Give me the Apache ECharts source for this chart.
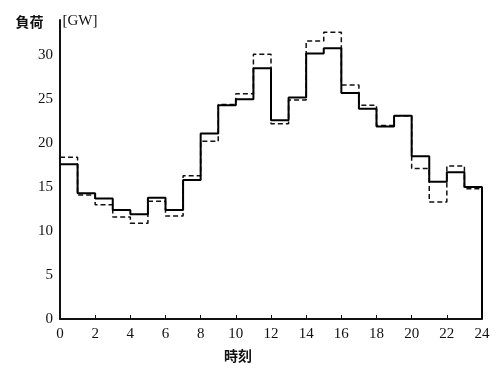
<!DOCTYPE html>
<html>
<head>
<meta charset="utf-8">
<script src="https://cdn.jsdelivr.net/npm/echarts@6/dist/echarts.min.js"></script>
<style>
  html, body { margin: 0; padding: 0; background: #fff; }
  #chart { width: 499px; height: 372px; }
</style>
</head>
<body>
<div id="chart"></div>
<script>
// hourly load, value held from hour h to h+1
const hours = [0, 1, 2, 3, 4, 5, 6, 7, 8, 9, 10, 11, 12, 13, 14, 15, 16, 17, 18, 19, 20, 21, 22, 23];
const solidLoad = [17.6, 14.3, 13.7, 12.4, 11.9, 13.8, 12.4, 15.8, 21.1, 24.3, 25.0, 28.5,
  22.6, 25.2, 30.2, 30.8, 25.7, 23.9, 21.9, 23.1, 18.5, 15.6, 16.7, 15.0];
const dashedLoad = [18.4, 14.1, 13.0, 11.6, 10.9, 13.4, 11.7, 16.3, 20.2, 24.4, 25.6, 30.1,
  22.2, 24.9, 31.6, 32.6, 26.6, 24.3, 22.0, 23.1, 17.1, 13.3, 17.4, 14.8];
const xTicks = [0, 2, 4, 6, 8, 10, 12, 14, 16, 18, 20, 22, 24];
const yTicks = [0, 5, 10, 15, 20, 25, 30];

const serif = "Liberation Serif, DejaVu Serif, serif";
const cjk = "Noto Sans CJK JP, sans-serif";

// step series: close the last hour at 24
const solidData = hours.map((h, i) => [h, solidLoad[i]]);
solidData.push([24, solidLoad[solidLoad.length - 1]], [24, 0]);
const dashedData = hours.map((h, i) => [h, dashedLoad[i]]);
dashedData.push([24, dashedLoad[dashedLoad.length - 1]]);

const chart = echarts.init(document.getElementById("chart"), null, { renderer: "canvas" });

chart.setOption({
  backgroundColor: "#fff",
  animation: false,
  grid: { left: 60, right: 17, top: 20, bottom: 53, containLabel: false },
  xAxis: {
    type: "value",
    min: 0,
    max: 24,
    interval: 2,
    name: "時刻",
    nameLocation: "middle",
    nameGap: 30,
    nameTextStyle: { color: "#111", fontFamily: cjk, fontSize: 14, fontWeight: "bold", padding: [0, 66, 0, 0] },
    axisLine: { lineStyle: { color: "#111", width: 2 } },
    axisTick: { inside: true, length: 4, lineStyle: { color: "#111" } },
    axisLabel: {
      color: "#111", fontFamily: serif, fontSize: 15, margin: 8,
      formatter: (v) => (xTicks.includes(v) ? String(v) : "")
    },
    splitLine: { show: false }
  },
  yAxis: {
    type: "value",
    min: 0,
    max: 34,
    interval: 5,
    name: "{a|負荷}{b|[GW]}",
    nameLocation: "end",
    nameGap: -9,
    nameTextStyle: {
      align: "center",
      padding: [0, 7, 0, 0],
      rich: {
        a: { color: "#111", fontFamily: cjk, fontSize: 14, fontWeight: "bold", padding: [0, 19, 0, 0] },
        b: { color: "#111", fontFamily: serif, fontSize: 15, padding: [0, 0, 0, 0] }
      }
    },
    axisLine: { show: true, lineStyle: { color: "#111", width: 2 } },
    axisTick: { show: false },
    axisLabel: {
      color: "#111", fontFamily: serif, fontSize: 15, margin: 7,
      showMaxLabel: false,
      formatter: (v) => (yTicks.includes(v) ? String(v) : "")
    },
    splitLine: { show: false }
  },
  series: [
    {
      name: "dashed",
      type: "line",
      step: "end",
      data: dashedData,
      showSymbol: false,
      lineStyle: { color: "#111", width: 1.5, type: [5, 3] },
      z: 2
    },
    {
      name: "solid",
      type: "line",
      step: "end",
      data: solidData,
      showSymbol: false,
      lineStyle: { color: "#000", width: 2 },
      z: 3
    }
  ]
});
</script>
</body>
</html>
